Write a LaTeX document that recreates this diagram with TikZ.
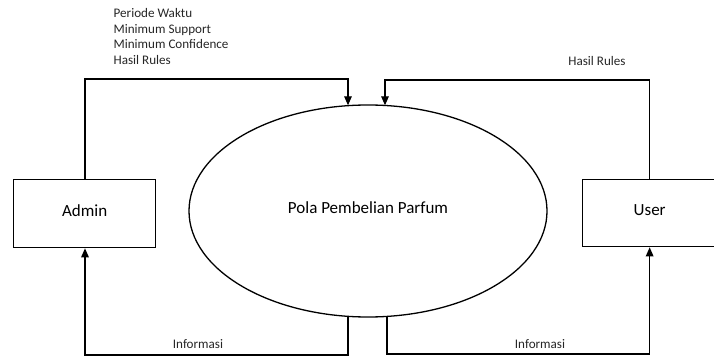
\documentclass[tikz,border=0pt]{standalone}
\usepackage{fontspec}
\setmainfont{Carlito}
\usetikzlibrary{shapes.geometric,arrows.meta,calc}
\begin{document}
\begin{tikzpicture}[x=1pt,y=-1pt,
  line width=1.3pt,
  flow/.style={-{Triangle[width=7.5pt,length=9pt]}},
  entity/.style={draw,rectangle,inner sep=0pt,anchor=north west,font=\fontsize{17}{20}\selectfont},
  small/.style={font=\fontsize{13.1}{15.6}\selectfont,inner sep=0pt,text=black!85}
]
\useasboundingbox (0,0) rectangle (714,358);
\node[entity,minimum width=142pt,minimum height=68pt] (admin) at (13,179) {\raisebox{7pt}{Admin}};
\node[entity,minimum width=134pt,minimum height=67pt] (user) at (582,179) {\raisebox{7pt}{User}};
\node[draw,ellipse,inner sep=0pt,minimum width=358pt,minimum height=212pt,font=\fontsize{17}{20}\selectfont] (pola) at (368,211) {\raisebox{6pt}{Pola Pembelian Parfum}};

\coordinate (tl) at (348,79);
\coordinate (tr) at (385,80);
\coordinate (bl) at (348,355);
\coordinate (br) at (387,354);

\draw[flow] (admin.north -| 85,0) |- (tl) -- ($(pola.north -| tl)+(0,1)$);
\draw[flow] (user.north) |- (tr) -- ($(pola.north -| tr)+(0,1)$);
\draw[flow] ($(pola.south -| bl)+(0,-1)$) -- (bl) -| (admin.south -| 85,0);
\draw[flow] ($(pola.south -| br)+(0,-1)$) -- (br) -| (user.south);

\node[small,anchor=north west,align=left] (inputs) at (113,8) {Periode Waktu\\Minimum Support\\Minimum Confidence\\Hasil Rules};
\node[small] (hasil) at (597,61) {Hasil Rules};
\node[small] (infoL) at (198,344) {Informasi};
\node[small] (infoR) at (540,344) {Informasi};
\end{tikzpicture}
\end{document}
